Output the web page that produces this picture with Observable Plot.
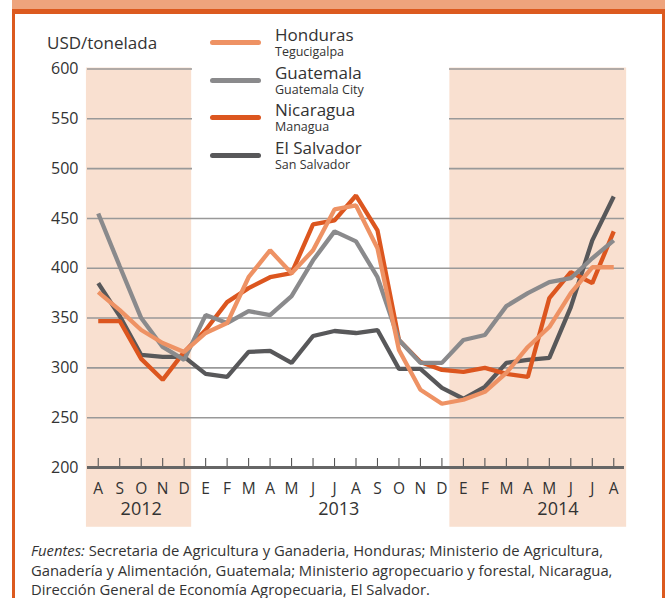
<!DOCTYPE html>
<html>
<head>
<meta charset="utf-8">
<script src="https://cdn.jsdelivr.net/npm/d3@7"></script>
<script src="https://cdn.jsdelivr.net/npm/@observablehq/plot@0.6"></script>
<style>
  html, body { margin: 0; padding: 0; background: #fff; }
  #wrap { position: relative; width: 665px; height: 598px; overflow: hidden; font-family: "Open Sans", sans-serif; color: #333; }
  #chart { position: absolute; left: 0; top: 0; }
  .band1 { position: absolute; left: 12px; top: 0; width: 653px; height: 9px; background: #EEA47D; }
  .band2 { position: absolute; left: 12px; top: 9px; width: 653px; height: 5px; background: #DC5A1F; }
  .bl { position: absolute; left: 12px; top: 9px; width: 3px; height: 589px; background: #DC5A1F; }
  .br { position: absolute; left: 662px; top: 9px; width: 3px; height: 589px; background: #DC5A1F; }
  #ylabel { position: absolute; left: 47px; top: 31px; font-size: 17px; white-space: nowrap; }
  #legend { position: absolute; left: 192px; top: 16px; width: 257px; height: 170px; background: #fff; }
  .item { position: absolute; left: 18px; width: 240px; height: 38px; }
  .sw { position: absolute; left: 0; width: 51px; height: 5px; border-radius: 3px; }
  .nm { position: absolute; left: 65px; font-size: 17px; line-height: 15px; white-space: nowrap; color: #333; }
  .sub { position: absolute; left: 65px; font-size: 12.5px; line-height: 12px; white-space: nowrap; color: #333; }
  #caption { position: absolute; left: 31px; top: 541px; font-size: 14.8px; line-height: 19.5px; color: #333; white-space: nowrap; }
</style>
</head>
<body>
<div id="wrap">
  <div id="chart"></div>
  <div class="band1"></div>
  <div class="band2"></div>
  <div class="bl"></div>
  <div class="br"></div>
  <div id="ylabel">USD/tonelada</div>
  <div id="legend"></div>
  <div id="caption"><i>Fuentes:</i> Secretaria de Agricultura y Ganaderia, Honduras; Ministerio de Agricultura,<br>Ganadería y Alimentación, Guatemala; Ministerio agropecuario y forestal, Nicaragua,<br>Dirección General de Economía Agropecuaria, El Salvador.</div>
</div>
<script>
// Months Aug 2012 .. Aug 2014
const monthLabels = ["A","S","O","N","D","E","F","M","A","M","J","J","A","S","O","N","D","E","F","M","A","M","J","J","A"];
const years = ["2012", "2013", "2014"];
const yearPos = [2, 11.2, 21.4];
const shadeStart = [-0.55, 16.37];
const shadeEnd = [4.35, 24.6];
const yTicks = [200, 250, 300, 350, 400, 450, 500, 550, 600];

const seriesNames = ["Honduras", "Guatemala", "Nicaragua", "El Salvador"];
const seriesCities = ["Tegucigalpa", "Guatemala City", "Managua", "San Salvador"];
const seriesColors = ["#EE9264", "#8A8A8C", "#DC561F", "#58585A"];

const honduras   = [376, 358, 338, 325, 316, 335, 345, 391, 418, 395, 418, 459, 463, 420, 318, 278, 264, 268, 276, 295, 321, 341, 375, 401, 401];
const guatemala  = [455, 402, 350, 321, 308, 353, 345, 357, 353, 372, 408, 437, 427, 391, 328, 305, 305, 328, 333, 362, 375, 386, 390, 410, 428];
const nicaragua  = [347, 347, 309, 288, 316, 338, 366, 380, 391, 395, 444, 448, 473, 438, 328, 306, 298, 296, 300, 294, 291, 370, 396, 385, 437];
const elsalvador = [385, 352, 313, 311, 311, 294, 291, 316, 317, 305, 332, 337, 335, 338, 299, 299, 280, 269, 281, 305, 308, 310, 361, 428, 472];

const seriesValues = [honduras, guatemala, nicaragua, elsalvador];
const idx = d3.range(monthLabels.length);

const rows = [];
// drawing order: El Salvador bottom, Honduras top
[3, 2, 1, 0].forEach(s => {
  seriesValues[s].forEach((v, i) => rows.push({series: seriesNames[s], i, v}));
});
const shades = shadeStart.map((s, k) => ({x1: s, x2: shadeEnd[k]}));

const chart = Plot.plot({
  width: 665,
  height: 540,
  marginLeft: 87,
  marginRight: 41,
  marginTop: 68.5,
  marginBottom: 73,
  style: {fontFamily: "Open Sans, sans-serif", fontSize: "16px", color: "#333", background: "transparent"},
  x: {type: "linear", domain: [-0.5, 24.5]},
  y: {domain: [200, 600]},
  color: {domain: seriesNames, range: seriesColors},
  marks: [
    Plot.rect(shades, {x1: "x1", x2: "x2", y1: 140, y2: 601, fill: "#F9E0D0"}),
    Plot.gridY({ticks: yTicks.filter(t => t > 200), stroke: "#999", strokeOpacity: 1, strokeWidth: 1.6}),
    Plot.axisY({ticks: yTicks, tickSize: 0, tickPadding: 9, fontSize: 16, label: null}),
    Plot.ruleX(idx, {x: d => d, y1: 200, y2: 209, stroke: "#555", strokeWidth: 1.1}),
    Plot.ruleY([200], {stroke: "#666", strokeWidth: 3}),
    Plot.axisX({ticks: idx, tickFormat: i => monthLabels[i], tickSize: 0, tickPadding: 15, fontSize: 15.5, label: null}),
    Plot.axisX({ticks: yearPos, tickFormat: (d, k) => years[k], tickSize: 0, tickPadding: 35, fontSize: 18, label: null}),
    Plot.line(rows, {x: "i", y: "v", z: "series", stroke: "series", strokeWidth: 4.3, strokeLinejoin: "miter", strokeLinecap: "butt"})
  ]
});
document.getElementById("chart").appendChild(chart);

// legend
const legend = document.getElementById("legend");
const legendTop = [26, 64, 101, 139];
seriesNames.forEach((n, k) => {
  const it = document.createElement("div");
  it.className = "item";
  it.style.top = (legendTop[k] - 16) + "px";
  it.innerHTML = `<div class="sw" style="top:14px;background:${seriesColors[k]}"></div>` +
    `<div class="nm" style="top:1px">${n}</div>` +
    `<div class="sub" style="top:20px">${seriesCities[k]}</div>`;
  legend.appendChild(it);
});
</script>
</body>
</html>
